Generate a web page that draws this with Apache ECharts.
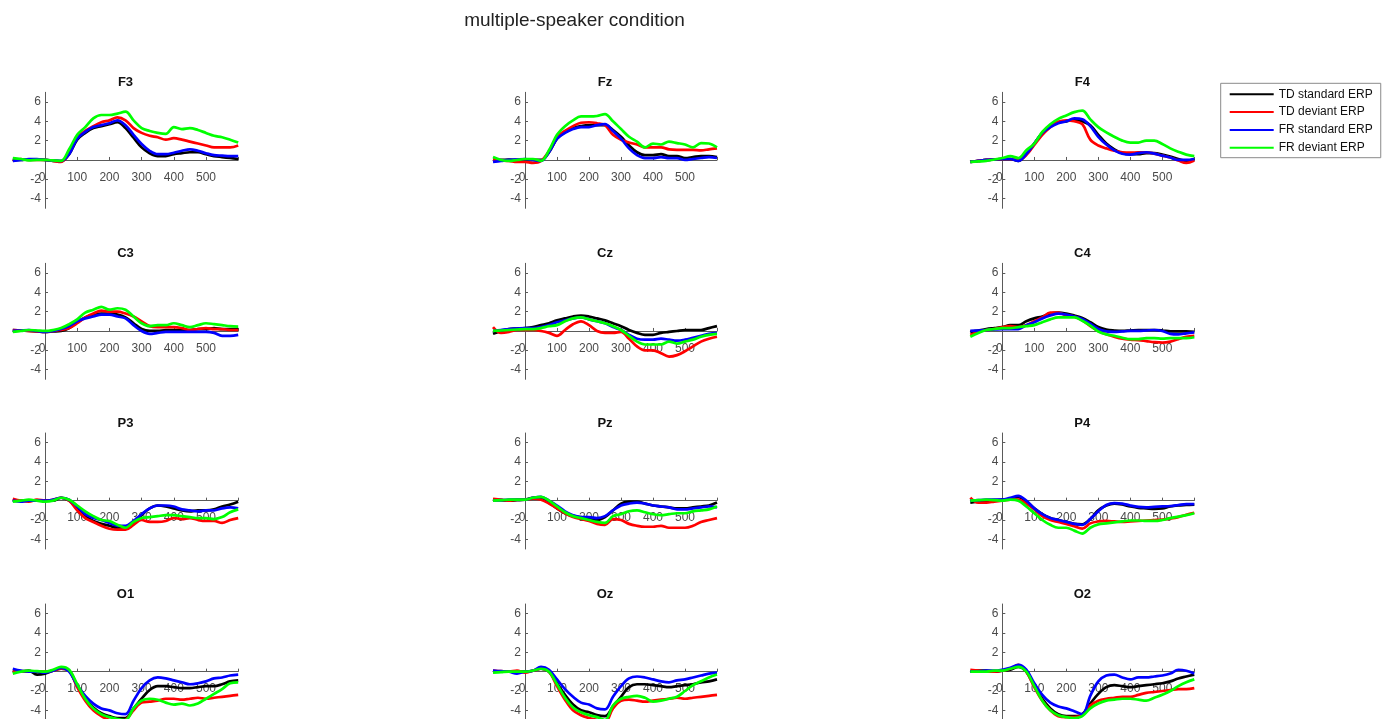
<!DOCTYPE html>
<html>
<head>
<meta charset="utf-8">
<script src="https://cdn.jsdelivr.net/npm/echarts@6/dist/echarts.min.js"></script>
<style>
html,body{margin:0;padding:0;background:#fff;}
#chart{width:1389px;height:719px;}
</style>
</head>
<body>
<div id="chart"></div>
<script>
// ---- data ----
const times = [-100,-75,-50,-25,0,25,50,75,100,125,150,175,200,225,250,275,300,325,350,375,400,425,450,475,500,525,550,575,600];
const channels = ['F3','Fz','F4','C3','Cz','C4','P3','Pz','P4','O1','Oz','O2'];
const seriesNames = ['TD standard ERP','TD deviant ERP','FR standard ERP','FR deviant ERP'];
const xTickValues = [0,100,200,300,400,500,600];
const xLabelValues = [0,100,200,300,400,500];
const yTickValues = [-4,-2,0,2,4,6];
const yLabelValues = [-4,-2,2,4,6];

const F3_black = [0,0,0.05,0.05,0,-0.1,-0.15,0.6,2.1,2.8,3.3,3.5,3.7,3.9,3.3,2.3,1.3,0.7,0.4,0.4,0.6,0.7,0.8,0.8,0.6,0.4,0.3,0.2,0.1];
const F3_red   = [-0.1,0.1,0,0,0,-0.1,-0.2,0.7,2.3,3.0,3.5,3.9,4.1,4.4,4.1,3.3,2.8,2.5,2.35,2.1,2.25,2.1,1.9,1.7,1.5,1.3,1.3,1.3,1.5];
const F3_blue  = [-0.1,0,0.1,0.1,0,-0.05,-0.1,0.6,2.2,2.9,3.4,3.6,3.8,4.1,3.6,2.6,1.65,0.95,0.6,0.6,0.75,0.95,1.1,0.95,0.7,0.5,0.45,0.4,0.4];
const F3_green = [0.2,0.1,-0.05,0,0,-0.05,-0.1,1.1,2.6,3.4,4.3,4.65,4.65,4.8,5.0,4.1,3.3,3.0,2.8,2.7,3.4,3.2,3.3,3.1,2.8,2.5,2.35,2.1,1.8];

const Fz_black = [0,0,0.05,0,0,0,0,0.8,2.2,2.9,3.3,3.5,3.6,3.6,3.6,3.1,2.4,1.5,0.8,0.5,0.5,0.6,0.4,0.4,0.2,0.3,0.4,0.4,0.3];
const Fz_red   = [0,-0.05,-0.1,-0.2,-0.2,-0.3,-0.1,0.9,2.4,3.0,3.5,3.85,3.9,3.8,3.6,2.6,2.1,1.8,1.6,1.3,1.3,1.3,1.1,1.05,1.05,1.05,1.0,1.1,1.2];
const Fz_blue  = [-0.2,-0.1,0,0.05,0.1,0,-0.1,0.8,2.2,2.8,3.2,3.4,3.4,3.6,3.7,3.0,2.2,1.2,0.5,0.2,0.2,0.3,0.2,0.2,0.0,0.1,0.2,0.3,0.2];
const Fz_green = [0.3,0,-0.1,0,0.1,0.1,-0.1,1.0,2.6,3.5,4.1,4.5,4.5,4.55,4.75,4.0,3.2,2.4,1.9,1.3,1.7,1.6,1.9,1.75,1.6,1.3,1.75,1.7,1.3];

const F4_black = [-0.2,-0.1,0,0.05,0.1,0.1,-0.1,0.6,1.7,2.8,3.5,3.9,4.0,4.2,4.0,3.6,2.6,1.7,1.1,0.7,0.6,0.6,0.7,0.7,0.55,0.35,0.1,-0.1,0.1];
const F4_red   = [-0.2,-0.1,0,0.05,0.1,0.1,0,0.5,1.55,2.6,3.4,3.95,4.1,4.0,3.7,2.1,1.5,1.2,0.95,0.8,0.75,0.8,0.8,0.65,0.45,0.25,-0.05,-0.3,-0.05];
const F4_blue  = [-0.2,-0.1,0,0.05,0.1,0.1,-0.1,0.6,1.7,2.8,3.4,3.8,4.0,4.3,4.2,3.5,2.4,1.6,1.0,0.65,0.55,0.7,0.8,0.65,0.45,0.25,0.0,0.0,0.1];
const F4_green = [-0.2,-0.15,-0.1,0.05,0.2,0.4,0.2,1.0,1.7,2.9,3.7,4.25,4.6,4.95,5.1,4.2,3.4,2.85,2.4,2.0,1.8,1.8,2.0,2.0,1.65,1.2,0.85,0.55,0.4];

const C3_black = [0.1,0.05,0,-0.05,-0.1,-0.05,0,0.3,0.9,1.4,1.7,1.8,1.8,1.7,1.4,0.8,0.2,0.0,0.0,0.1,0.1,0.1,0.1,0.2,0.2,0.3,0.2,0.2,0.2];
const C3_red   = [0.1,0.05,0,-0.05,-0.1,0,0.1,0.3,0.8,1.4,1.8,2.1,2.0,2.0,1.8,1.5,1.0,0.5,0.4,0.4,0.4,0.3,0.1,0.2,0.3,0.2,0.2,0.1,0.1];
const C3_blue  = [0,0.05,0.1,0,-0.1,0,0.2,0.5,1.0,1.3,1.5,1.7,1.7,1.5,1.3,0.6,0.0,-0.3,-0.2,-0.1,-0.1,-0.1,-0.1,-0.1,-0.1,-0.2,-0.5,-0.5,-0.4];
const C3_green = [-0.1,0,0.1,0.05,0,0.1,0.3,0.7,1.2,1.9,2.2,2.5,2.2,2.35,2.2,1.5,0.8,0.5,0.6,0.6,0.8,0.6,0.4,0.6,0.8,0.7,0.6,0.5,0.45];

const Cz_black = [-0.3,0,0.2,0.25,0.3,0.4,0.6,0.8,1.1,1.3,1.5,1.6,1.5,1.3,1.1,0.8,0.5,0.1,-0.2,-0.4,-0.4,-0.2,-0.1,0,0.1,0.1,0.1,0.3,0.5];
const Cz_red   = [0.4,-0.2,-0.1,0.1,0.1,0.1,0,-0.2,-0.5,0.1,0.7,1.0,0.6,0,-0.2,-0.2,-0.1,-0.8,-1.6,-2.0,-2.0,-2.3,-2.65,-2.5,-2.1,-1.6,-1.1,-0.8,-0.6];
const Cz_blue  = [0,0.1,0.2,0.25,0.3,0.3,0.4,0.6,0.9,1.1,1.3,1.4,1.2,1.0,0.8,0.4,0.1,-0.4,-0.8,-0.9,-0.9,-0.8,-0.9,-1.0,-0.9,-0.7,-0.5,-0.3,-0.2];
const Cz_green = [0,0.05,0.1,0.15,0.2,0.2,0.3,0.5,0.6,1.0,1.3,1.4,1.2,1.0,0.8,0.5,0.1,-0.5,-1.1,-1.4,-1.4,-1.4,-1.1,-1.3,-1.1,-0.9,-0.6,-0.4,-0.3];

const C4_black = [-0.1,0.05,0.2,0.3,0.4,0.6,0.6,1.0,1.3,1.5,1.8,1.9,1.8,1.6,1.35,0.9,0.4,0.15,0.05,0,0.05,0.1,0.1,0.1,0.05,-0.05,-0.05,-0.05,-0.1];
const C4_red   = [-0.4,-0.1,0.1,0.2,0.4,0.5,0.4,0.6,1.0,1.4,1.9,1.9,1.6,1.5,1.1,0.5,0,-0.35,-0.6,-0.8,-0.9,-0.95,-1.05,-1.15,-1.2,-1.1,-0.85,-0.6,-0.5];
const C4_blue  = [0,0.05,0.1,0.15,0.2,0.2,0.2,0.6,0.9,1.3,1.6,1.8,1.7,1.5,1.25,0.75,0.2,-0.05,-0.1,-0.05,0,0,0.05,0.1,0,-0.3,-0.35,-0.25,-0.15];
const C4_green = [-0.6,-0.2,0.1,0.2,0.3,0.3,0.4,0.5,0.6,0.9,1.2,1.4,1.4,1.4,1.05,0.55,-0.05,-0.35,-0.5,-0.7,-0.85,-0.85,-0.75,-0.75,-0.8,-0.75,-0.75,-0.75,-0.65];

const P3_black = [0,0,0,0,0,0,0.3,0,-0.8,-1.6,-2.1,-2.4,-2.6,-2.8,-2.7,-2.3,-1.5,-0.8,-0.5,-0.6,-0.8,-1.0,-1.1,-1.0,-1.0,-0.9,-0.6,-0.4,-0.1];
const P3_red   = [0.2,0,-0.1,0.1,0,0.1,0.3,0,-1.0,-1.8,-2.2,-2.6,-2.9,-3.0,-3.0,-2.5,-2.0,-2.2,-2.2,-2.1,-1.8,-1.9,-1.8,-2.0,-2.1,-2.1,-2.3,-2.0,-1.8];
const P3_blue  = [0,-0.1,0,0,0,0.1,0.3,0.1,-0.6,-1.4,-1.8,-2.0,-2.3,-2.6,-2.6,-2.1,-1.4,-0.8,-0.5,-0.5,-0.6,-0.9,-1.0,-1.1,-1.0,-1.0,-0.8,-0.7,-0.8];
const P3_green = [-0.1,0,0.1,0,-0.1,0,0.3,0.1,-0.5,-1.1,-1.6,-2.0,-2.1,-2.5,-2.8,-2.2,-1.8,-1.7,-1.6,-1.5,-1.5,-1.6,-1.7,-1.8,-1.8,-1.9,-1.7,-1.2,-0.9];

const Pz_black = [0.1,0.05,0,0.05,0.1,0.3,0.3,-0.2,-0.8,-1.3,-1.6,-1.7,-1.8,-2.0,-1.7,-1.0,-0.3,-0.1,-0.1,-0.3,-0.5,-0.6,-0.7,-0.8,-0.8,-0.7,-0.6,-0.5,-0.2];
const Pz_red   = [0.2,0.1,0,0.1,0.1,0.2,0.1,-0.3,-0.8,-1.3,-1.7,-1.9,-2.1,-2.4,-2.5,-1.9,-2.0,-2.4,-2.6,-2.7,-2.7,-2.6,-2.8,-2.8,-2.8,-2.6,-2.2,-2.0,-1.8];
const Pz_blue  = [0,0.05,0.1,0.1,0.1,0.3,0.4,0,-0.5,-1.1,-1.5,-1.7,-1.7,-1.8,-1.6,-1.0,-0.5,-0.3,-0.2,-0.3,-0.5,-0.6,-0.7,-0.9,-0.9,-0.8,-0.7,-0.6,-0.7];
const Pz_green = [0,0.05,0.1,0.1,0.1,0.3,0.4,0,-0.6,-1.2,-1.6,-1.8,-2.0,-2.2,-2.3,-1.6,-1.4,-1.1,-1.0,-1.2,-1.4,-1.5,-1.4,-1.3,-1.3,-1.1,-1.0,-0.9,-0.6];

const P4_black = [-0.2,-0.1,0,0.05,0.1,0.2,0.4,-0.1,-0.8,-1.4,-1.8,-2.0,-2.2,-2.4,-2.45,-1.9,-1.0,-0.5,-0.3,-0.4,-0.6,-0.75,-0.8,-0.85,-0.8,-0.6,-0.5,-0.45,-0.4];
const P4_red   = [0.3,-0.2,-0.2,-0.1,0,0.1,0.1,-0.3,-0.9,-1.6,-2.0,-2.2,-2.4,-2.65,-2.9,-2.35,-2.15,-2.1,-2.15,-2.2,-2.15,-2.1,-2.05,-2.0,-1.95,-1.85,-1.7,-1.45,-1.25];
const P4_blue  = [0,0.05,0.1,0.1,0.1,0.3,0.5,0,-0.8,-1.4,-1.8,-2.0,-2.2,-2.4,-2.5,-1.9,-1.1,-0.45,-0.25,-0.3,-0.5,-0.65,-0.7,-0.65,-0.6,-0.55,-0.45,-0.35,-0.35];
const P4_green = [0,0.05,0.1,0.05,0,0.1,0,-0.6,-1.3,-2.0,-2.5,-2.8,-2.8,-3.1,-3.4,-2.8,-2.45,-2.35,-2.25,-2.15,-2.05,-2.05,-2.1,-2.1,-2.0,-1.8,-1.65,-1.5,-1.3];

const O1_black = [0,0.05,0.1,-0.3,-0.2,0.1,0.3,0.1,-1.5,-2.8,-3.7,-4.3,-4.6,-4.8,-4.8,-3.8,-2.8,-1.9,-1.5,-1.5,-1.6,-1.7,-1.7,-1.6,-1.5,-1.5,-1.3,-1.0,-0.9];
const O1_red   = [0,0,0,0,0,0.1,0.3,0.1,-1.6,-3.0,-4.0,-4.6,-5.0,-5.2,-5.0,-4.0,-3.2,-3.1,-3.0,-2.8,-2.8,-2.9,-2.8,-2.7,-2.8,-2.7,-2.6,-2.5,-2.4];
const O1_blue  = [0.3,0.1,0,0,-0.1,0.1,0.4,0,-1.4,-2.5,-3.3,-3.8,-4.0,-4.3,-4.4,-3.0,-1.7,-0.9,-0.6,-0.7,-0.9,-1.1,-1.3,-1.2,-1.0,-0.7,-0.6,-0.4,-0.3];
const O1_green = [-0.2,0,0.1,0.05,0,0.2,0.5,0.2,-1.3,-2.8,-3.8,-4.4,-4.7,-4.9,-5.0,-3.8,-3.0,-2.8,-2.9,-3.2,-3.4,-3.3,-3.5,-3.3,-2.8,-2.3,-1.8,-1.2,-1.1];

const Oz_black = [0,0,0,0,0,0.1,0.3,0,-1.2,-2.4,-3.4,-4.0,-4.2,-4.5,-4.6,-3.6,-2.6,-1.6,-1.3,-1.3,-1.4,-1.5,-1.6,-1.5,-1.4,-1.3,-1.1,-1.0,-0.8];
const Oz_red   = [0.1,0.05,0,0.1,-0.1,0.1,0.3,0,-1.5,-2.9,-4.0,-4.5,-4.8,-5.0,-5.2,-3.8,-3.0,-2.9,-3.0,-3.1,-3.0,-2.9,-2.8,-2.7,-2.8,-2.7,-2.6,-2.5,-2.4];
const Oz_blue  = [0.1,0.05,0,-0.2,0,0.1,0.5,0.2,-0.8,-1.8,-2.6,-3.2,-3.4,-3.8,-3.9,-2.6,-1.5,-0.7,-0.5,-0.6,-0.8,-1.0,-1.1,-0.9,-0.8,-0.6,-0.4,-0.2,-0.1];
const Oz_green = [-0.1,-0.05,0,0,0,0.1,0.3,0,-1.3,-2.7,-3.7,-4.2,-4.5,-4.7,-5.0,-3.5,-2.8,-2.6,-2.5,-2.7,-3.1,-3.0,-2.8,-2.6,-2.0,-1.4,-1.0,-0.6,-0.3];

const O2_black = [0,0.1,0.1,0,0.1,0.2,0.5,0,-1.5,-2.8,-3.8,-4.4,-4.6,-4.6,-4.4,-3.3,-2.3,-1.6,-1.4,-1.5,-1.6,-1.5,-1.4,-1.3,-1.2,-1.0,-0.7,-0.5,-0.3];
const O2_red   = [0.2,0.1,0,0,0.1,0.3,0.7,0,-1.6,-3.0,-4.0,-4.6,-4.7,-4.7,-4.5,-3.5,-3.0,-2.8,-2.7,-2.6,-2.6,-2.4,-2.2,-2.1,-2.0,-1.9,-1.8,-1.8,-1.7];
const O2_blue  = [0,0,0.1,0.1,0.2,0.4,0.7,0.2,-1.2,-2.4,-3.2,-3.6,-3.8,-4.1,-4.4,-2.5,-1.0,-0.4,-0.3,-0.6,-0.8,-0.6,-0.6,-0.5,-0.4,-0.2,0.2,0.1,-0.2];
const O2_green = [0,0,0,0.1,0.1,0.3,0.5,0,-1.5,-3.0,-4.0,-4.5,-4.7,-4.8,-4.6,-3.8,-3.3,-3.0,-2.9,-2.8,-2.8,-2.9,-3.0,-2.7,-2.4,-2.0,-1.5,-1.1,-0.8];

// ---- build ----
const channelData = {
  F3:[F3_black,F3_red,F3_blue,F3_green], Fz:[Fz_black,Fz_red,Fz_blue,Fz_green], F4:[F4_black,F4_red,F4_blue,F4_green],
  C3:[C3_black,C3_red,C3_blue,C3_green], Cz:[Cz_black,Cz_red,Cz_blue,Cz_green], C4:[C4_black,C4_red,C4_blue,C4_green],
  P3:[P3_black,P3_red,P3_blue,P3_green], Pz:[Pz_black,Pz_red,Pz_blue,Pz_green], P4:[P4_black,P4_red,P4_blue,P4_green],
  O1:[O1_black,O1_red,O1_blue,O1_green], Oz:[Oz_black,Oz_red,Oz_blue,Oz_green], O2:[O2_black,O2_red,O2_blue,O2_green]
};
const colors = ['#000000','#ff0000','#0000ff','#00ff00'];
const X_MIN = -100, X_MAX = 600, Y_MIN = -5, Y_MAX = 7;
const colLeft = [12.8, 493, 970.3];
const colWidth = [225.4, 224, 224];
const rowTop = [92.3, 263.3, 433, 604];
const plotH = 116;
const FONT = 'Liberation Sans, Arial, Helvetica, sans-serif';
const axisColor = '#5a5a5a';
const labelColor = '#4a4a4a';

const grids = [], xAxes = [], yAxes = [], series = [];
const titles = [{
  text: 'multiple-speaker condition', left: 574.5, top: 11, textAlign: 'center', padding: 0,
  textStyle: {fontFamily: FONT, fontSize: 19, fontWeight: 'normal', color: '#222'}
}];
channels.forEach((ch, i) => {
  const r = Math.floor(i / 3), c = i % 3;
  const w = colWidth[c];
  // shift axes from grid edges to the origin (MATLAB "origin" axis location)
  const xOff = -plotH * (0 - Y_MIN) / (Y_MAX - Y_MIN);
  const yOff = -w * (0 - X_MIN) / (X_MAX - X_MIN);
  grids.push({left: colLeft[c], top: rowTop[r], width: w, height: plotH, containLabel: false, outerBoundsMode: 'none'});
  titles.push({
    text: ch, left: colLeft[c] + w / 2, top: rowTop[r] - 16, textAlign: 'center', padding: 0,
    textStyle: {fontFamily: FONT, fontSize: 13, fontWeight: 'bold', color: '#111'}
  });
  xAxes.push({
    type: 'value', gridIndex: i, min: X_MIN, max: X_MAX, position: 'bottom', offset: xOff,
    axisLine: {show: true, onZero: false, lineStyle: {color: axisColor, width: 1}},
    axisTick: {show: true, inside: true, length: 3, customValues: xTickValues, lineStyle: {color: axisColor}},
    axisLabel: {show: true, customValues: xLabelValues, margin: 11.5, fontFamily: FONT, fontSize: 12, color: labelColor,
      formatter: v => v === 0 ? '{z|0}' : String(v),
      rich: {z: {fontFamily: FONT, fontSize: 12, color: labelColor, padding: [0, 6, 0, 0]}}},
    splitLine: {show: false}
  });
  yAxes.push({
    type: 'value', gridIndex: i, min: Y_MIN, max: Y_MAX, position: 'left', offset: yOff,
    axisLine: {show: true, onZero: false, lineStyle: {color: axisColor, width: 1}},
    axisTick: {show: true, inside: true, length: 3, customValues: yTickValues, lineStyle: {color: axisColor}},
    axisLabel: {show: true, customValues: yLabelValues, margin: 4, fontFamily: FONT, fontSize: 12, color: labelColor},
    splitLine: {show: false}
  });
  channelData[ch].forEach((vals, k) => {
    series.push({
      type: 'line', name: seriesNames[k], xAxisIndex: i, yAxisIndex: i,
      data: times.map((t, j) => [t, vals[j]]),
      showSymbol: false, symbol: 'none', smooth: 0.35, clip: true,
      lineStyle: {color: colors[k], width: 2.7}, itemStyle: {color: colors[k]},
      emphasis: {disabled: true}, z: 2 + k
    });
  });
});

const chart = echarts.init(document.getElementById('chart'), null, {renderer: 'canvas'});
chart.setOption({
  animation: false,
  backgroundColor: '#ffffff',
  title: titles,
  grid: grids,
  xAxis: xAxes,
  yAxis: yAxes,
  legend: {
    data: seriesNames, orient: 'vertical', left: 1220.7, top: 83.3,
    padding: [4, 8, 3, 9], itemWidth: 44, itemHeight: 2, itemGap: 3.8, icon: 'rect',
    borderColor: '#8a8a8a', borderWidth: 1, backgroundColor: '#fff',
    textStyle: {fontFamily: FONT, fontSize: 12, color: '#111', lineHeight: 14}
  },
  series: series
});
</script>
</body>
</html>
